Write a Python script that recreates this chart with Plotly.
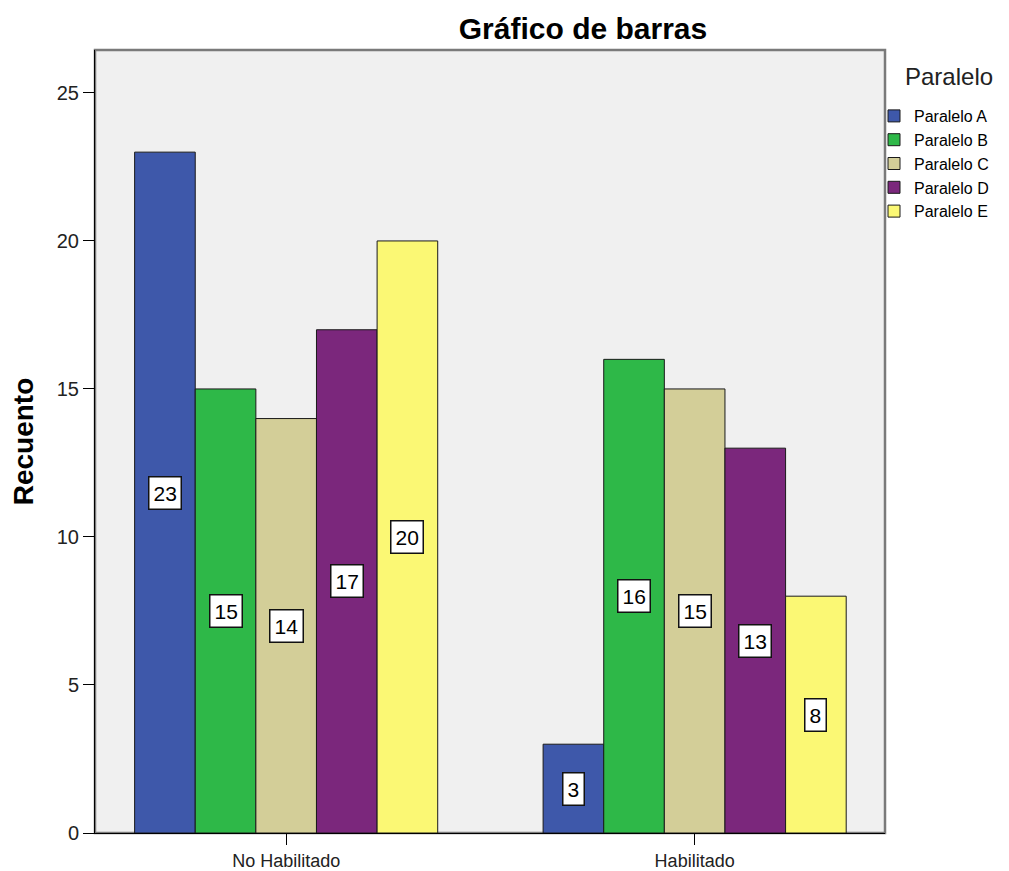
import plotly.graph_objects as go

categories = ["No Habilitado", "Habilitado"]
series_names = ["Paralelo A", "Paralelo B", "Paralelo C", "Paralelo D", "Paralelo E"]
paralelo_a = [23, 3]
paralelo_b = [15, 16]
paralelo_c = [14, 15]
paralelo_d = [17, 13]
paralelo_e = [20, 8]
series_values = [paralelo_a, paralelo_b, paralelo_c, paralelo_d, paralelo_e]
colors = ["#3E58AA", "#2EB848", "#D3CE98", "#7B277C", "#FBF874"]
y_ticks = [0, 5, 10, 15, 20, 25]

FONT = "Liberation Sans, Arial, sans-serif"
W, H = 1001, 863
L, R, T, B = 87, 124, 42, 38
bargap = 0.258
group_w = 1 - bargap
n = len(series_names)
pw = W - L - R
ph = H - T - B

fig = go.Figure()
for name, vals, col in zip(series_names, series_values, colors):
    fig.add_trace(go.Bar(
        name=name, x=categories, y=vals,
        marker=dict(color=col, line=dict(color="#1a1a1a", width=1)),
    ))

# value labels in white boxes at bar mid-height
for i, vals in enumerate(series_values):
    off = (i - (n - 1) / 2) * group_w / n
    for ci, v in enumerate(vals):
        fig.add_annotation(
            x=ci + off, y=v / 2, xref="x", yref="y", text=str(v),
            showarrow=False, bgcolor="white", bordercolor="#111", borderwidth=1.5,
            borderpad=4, font=dict(family=FONT, size=21, color="black"),
        )

# legend heading
fig.add_annotation(
    x=(895 - L) / pw, y=(H - B - 69) / ph, xref="paper", yref="paper",
    xanchor="left", yanchor="middle", showarrow=False, text="Paralelo",
    font=dict(family=FONT, size=24, color="#222"),
)

# gray frame (top/right)
fig.add_shape(type="rect", xref="paper", yref="paper", x0=0, y0=0, x1=1, y1=1,
              line=dict(color="#7a7a7a", width=2.5), layer="below")

fig.update_layout(
    width=W, height=H,
    barmode="group", bargap=bargap, bargroupgap=0,
    paper_bgcolor="white", plot_bgcolor="#F0F0F0",
    margin=dict(l=L, r=R, t=T, b=B),
    title=dict(text="<b>Gráfico de barras</b>", x=575 / W, xanchor="center",
               y=1 - 20 / H, yanchor="middle",
               font=dict(family=FONT, size=30, color="black")),
    font=dict(family=FONT, color="black"),
    legend=dict(xref="paper", yref="paper",
                x=(866 - L) / pw, xanchor="left", y=(H - B - 91) / ph, yanchor="top",
                font=dict(size=16, color="black"), tracegroupgap=0,
                itemwidth=30, bgcolor="rgba(0,0,0,0)"),
    showlegend=True,
)
fig.update_xaxes(
    type="category", range=[-0.468, 1.466], automargin=False,
    showline=True, linecolor="black", linewidth=1,
    ticks="outside", ticklen=11, tickcolor="black",
    tickfont=dict(size=18, color="#222"), showgrid=False, zeroline=False,
)
fig.update_yaxes(
    range=[0, 26.45], tickvals=y_ticks, automargin=False,
    showline=True, linecolor="black", linewidth=1,
    ticks="outside", ticklen=11, tickcolor="black",
    tickfont=dict(size=20, color="#222"), showgrid=False, zeroline=False,
    title=dict(text="<b>Recuento</b>", font=dict(size=28, color="black"), standoff=20),
)

fig.write_html("out.html")
